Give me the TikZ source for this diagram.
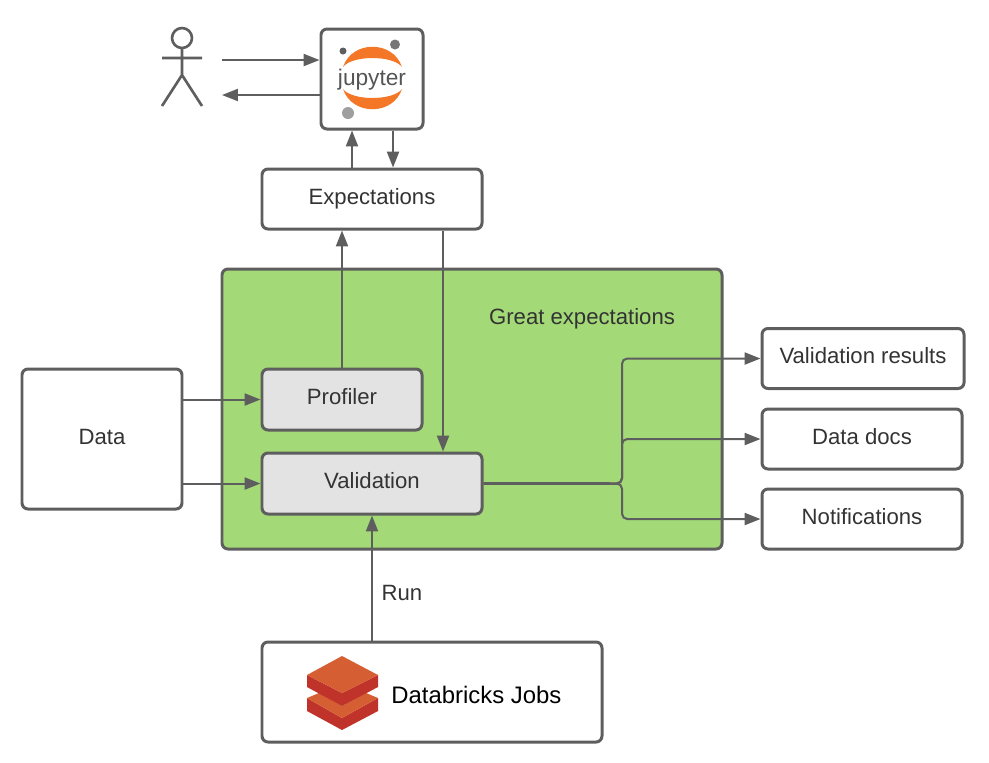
\documentclass[tikz,border=0pt]{standalone}
\usepackage{fontspec}
\setmainfont{Liberation Sans}
\usetikzlibrary{arrows.meta}

\definecolor{edgegray}{HTML}{5E5E5E}
\definecolor{txtgray}{HTML}{333333}
\definecolor{greatgreen}{HTML}{A3D977}
\definecolor{stepgray}{HTML}{E3E3E3}
\definecolor{jupyorange}{HTML}{F37726}
\definecolor{brickface}{HTML}{D55F32}
\definecolor{brickside}{HTML}{C0332A}

\tikzset{
  lbl/.style={text=txtgray,font=\fontsize{12.6}{15}\selectfont,inner sep=0pt,text height=9pt,text depth=3.3pt},
  box/.style={lbl,draw=edgegray,line width=1.7pt,rounded corners=3.4pt,fill=white},
  flow/.style={draw=edgegray,line width=1.15pt,-{Triangle[length=9pt,width=6.8pt]}},
  stick/.style={draw=edgegray,line width=1.5pt}
}

\begin{document}
\begin{tikzpicture}[x=0.02cm,y=-0.02cm]
\def\px{0.02cm}
\useasboundingbox (0,0) rectangle (989,762);
% ---- big green frame first ----
\node[box,fill=greatgreen,minimum width=500*\px,minimum height=280*\px] (great) at (472,409) {};
\node[lbl] (greatlabel) at (582,319) {Great expectations};
% ---- boxes ----
\node[box,minimum width=102*\px,minimum height=100*\px] (jupyter) at (372,79) {};
\node[box,minimum width=220*\px,minimum height=60*\px] (expect) at (372,199) {Expectations};
\node[box,fill=stepgray,minimum width=160*\px,minimum height=61*\px] (profiler) at (342,399.5) {Profiler};
\node[box,fill=stepgray,minimum width=220*\px,minimum height=61*\px] (validation) at (372,483.5) {Validation};
\node[box,minimum width=160*\px,minimum height=140*\px] (data) at (102,439) {Data};
\node[box,minimum width=202*\px,minimum height=60*\px] (results) at (863,358.5) {Validation results};
\node[box,minimum width=200*\px,minimum height=60*\px] (docs) at (862,439) {Data docs};
\node[box,minimum width=200*\px,minimum height=60*\px] (notif) at (862,519) {Notifications};
\node[box,minimum width=340*\px,minimum height=100*\px] (jobs) at (432,692) {};
% ---- stick figure ----
\draw[stick] (182,38) circle (10);
\draw[stick] (182,48) -- (182,75) (162,58) -- (202,58) (162,106) -- (182,75) -- (202,106);
% ---- jupyter logo ----
\fill[jupyorange] (343,67) .. controls (352,40) and (393,40) .. (402,67)
  .. controls (393,55) and (352,55) .. cycle;
\fill[jupyorange] (343,89) .. controls (352,116) and (393,116) .. (402,89)
  .. controls (393,101) and (352,101) .. cycle;
\fill[edgegray] (343,51) circle (3.5);
\fill[edgegray!85] (395,44.5) circle (5);
\fill[gray!75] (348,113) circle (6);
\node[text=edgegray!90!black,font=\fontsize{12.9}{15}\selectfont,inner sep=0pt] (jupytext) at (372,80) {jupyter};
% ---- databricks logo ----
\fill[brickside] (307,698) -- (342,718) -- (378,698) -- (378,711) -- (342,730) -- (307,711) -- cycle;
\fill[brickface] (307,698) -- (319,693) -- (342,706) -- (366,693) -- (378,698) -- (342,718) -- cycle;
\fill[brickside] (307,675) -- (342,693) -- (378,675) -- (378,687) -- (342,706) -- (307,687) -- cycle;
\fill[brickface] (342,656) -- (378,675) -- (342,693) -- (307,675) -- cycle;
\node[anchor=west,text=black,font=\fontsize{13.6}{15}\selectfont,inner sep=0pt] (jobstext) at (391,695) {Databricks Jobs};
% ---- free ends and columns ----
\coordinate (actorout) at (222,60);
\coordinate (actorin) at (222,95);
\coordinate (upx) at (352,0);
\coordinate (downx) at (393,0);
\coordinate (checkx) at (443,0);
\coordinate (branch) at (622,483.5);
% ---- connectors ----
\draw[flow] (actorout) -- (jupyter.west |- actorout);
\draw[flow] (jupyter.west |- actorin) -- (actorin);
\draw[flow] (expect.north -| upx) -- (jupyter.south -| upx);
\draw[flow] (jupyter.south -| downx) -- (expect.north -| downx);
\draw[flow] (profiler.north) -- (profiler.north |- expect.south);
\draw[flow] (expect.south -| checkx) -- (validation.north -| checkx);
\draw[flow] (data.east |- profiler.west) -- (profiler.west);
\draw[flow] (data.east |- validation.west) -- (validation.west);
\draw[flow] (jobs.north -| validation.south) -- (validation.south);
\node[lbl] (runlabel) at (402,595) {Run};
\draw[draw=edgegray,line width=1.45pt] (validation.east) -- (610,483.5);
\foreach \t in {results,docs,notif}{
  \draw[flow,rounded corners=3pt] (validation.east) -- (branch) |- (\t.west);
}
\end{tikzpicture}
\end{document}
